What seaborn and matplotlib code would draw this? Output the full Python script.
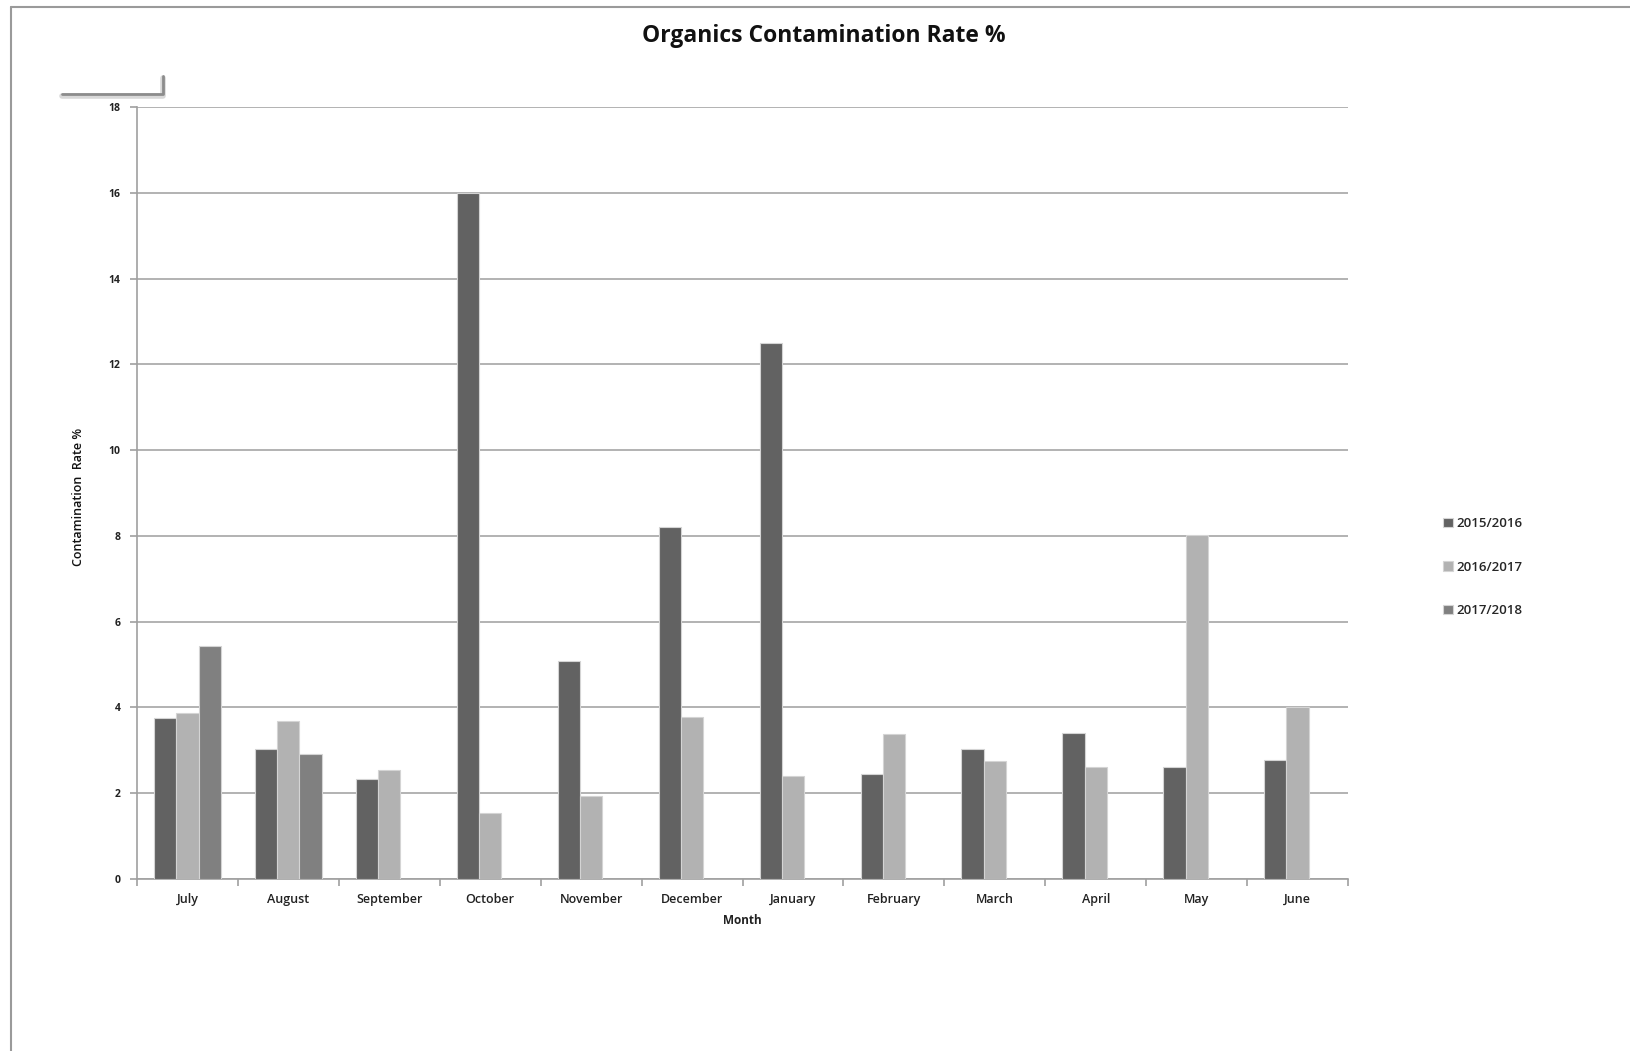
import matplotlib
matplotlib.use("Agg")
import matplotlib.pyplot as plt
from matplotlib.lines import Line2D
import numpy as np
import pandas as pd
import seaborn as sns

months = ["July", "August", "September", "October", "November", "December",
          "January", "February", "March", "April", "May", "June"]
seasons = ["2015/2016", "2016/2017", "2017/2018"]
rate_2015_16 = [3.75, 3.04, 2.33, 16.0, 5.08, 8.2, 12.49, 2.44, 3.04, 3.41, 2.6, 2.77]
rate_2016_17 = [3.88, 3.68, 2.53, 1.55, 1.93, 3.77, 2.39, 3.38, 2.75, 2.61, 8.02, 4.0]
rate_2017_18 = [5.44, 2.91, np.nan, np.nan, np.nan, np.nan, np.nan, np.nan, np.nan, np.nan, np.nan, np.nan]
y_ticks = [0, 2, 4, 6, 8, 10, 12, 14, 16, 18]
colors = ["#626262", "#b2b2b2", "#808080"]

rows = []
for season, vals in zip(seasons, [rate_2015_16, rate_2016_17, rate_2017_18]):
    for m, v in zip(months, vals):
        rows.append({"Month": m, "Season": season, "Rate": v})
df = pd.DataFrame(rows)

sns.set_style("white")
plt.rcParams["font.family"] = ["Open Sans", "DejaVu Sans"]

W, H = 1630, 1051
fig = plt.figure(figsize=(W / 100, H / 100), dpi=100)
ax = fig.add_axes([137 / W, 1 - 879 / H, (1348 - 137) / W, (879 - 107) / H])

sns.barplot(data=df, x="Month", y="Rate", hue="Season", order=months,
            hue_order=seasons, palette=colors, width=0.66, gap=0,
            saturation=1, edgecolor="#d4d4d4", linewidth=0.8,
            errorbar=None, ax=ax, zorder=3)

ax.set_xlim(-0.5, 11.5)
ax.set_ylim(0, 18)
ax.set_yticks(y_ticks)
ax.set_yticklabels([str(t) for t in y_ticks], fontsize=7.5, fontweight="bold",
                   color="#222222")
ax.yaxis.grid(True, color="#a6a6a6", linewidth=1.2, zorder=0)
ax.xaxis.grid(False)
ax.set_axisbelow(True)

for side in ["top", "right"]:
    ax.spines[side].set_visible(False)
for side in ["left", "bottom"]:
    ax.spines[side].set_color("#a0a0a0")
    ax.spines[side].set_linewidth(1.2)

ax.tick_params(axis="y", which="major", length=5, width=1.2, color="#a0a0a0",
               direction="out", left=True, pad=7)
ax.set_xticks(range(len(months)))
ax.set_xticklabels(months, fontsize=9, fontweight="semibold", color="#222222")
ax.tick_params(axis="x", which="major", length=0, pad=10)
ax.set_xticks(np.arange(-0.5, 12, 1), minor=True)
ax.tick_params(axis="x", which="minor", length=5, width=1.2, color="#a0a0a0",
               direction="out", bottom=True)

ax.set_xlabel("Month", fontsize=8.5, fontweight="bold", color="#222222", labelpad=6)
ax.set_ylabel("Contamination  Rate %", fontsize=9, fontweight="semibold",
              color="#111111")
ax.yaxis.set_label_coords(-0.043, 0.495)

ax.get_legend().remove()
handles, labels = ax.get_legend_handles_labels()
fig.legend(handles, labels, loc="upper left",
           bbox_to_anchor=(1438 / W, 1 - 512 / H), frameon=False,
           handlelength=0.7, handleheight=0.7,
           handletextpad=0.3, labelspacing=2.3, borderaxespad=0,
           prop={"weight": "semibold", "size": 9.5})

fig.text(824 / W, 1 - 36 / H, "Organics Contamination Rate %",
         ha="center", va="center", fontsize=16.5, fontweight="bold", color="#111111")

# chart area frame
fig.add_artist(Line2D([10.5 / W, 10.5 / W], [0, 1 - 7 / H],
                      transform=fig.transFigure, color="#9a9a9a", lw=1.5))
fig.add_artist(Line2D([10.5 / W, 1], [1 - 7 / H, 1 - 7 / H],
                      transform=fig.transFigure, color="#9a9a9a", lw=1.5))

# small bracket shape above the axis
bx = [62 / W, 163 / W, 163 / W]
by = [1 - 94 / H, 1 - 94 / H, 1 - 76 / H]
fig.add_artist(Line2D(bx, [v - 1.5 / H for v in by], transform=fig.transFigure,
                      color="#d8d8d8", lw=4, solid_capstyle="round"))
fig.add_artist(Line2D(bx, by, transform=fig.transFigure, color="#8c8c8c", lw=2))

fig.savefig("out.png", dpi=100)
